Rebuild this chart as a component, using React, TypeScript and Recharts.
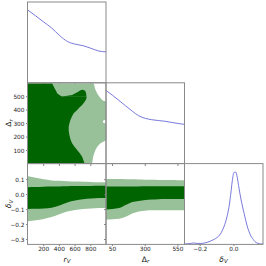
import React from 'react';
import { ComposedChart, Area, Line, XAxis, YAxis, ReferenceDot } from 'recharts';

// ---------- 1D marginals ----------
const rvGrid = [0, 100, 200, 300, 400, 500, 600, 700, 800, 900, 1000];
const rvDensity = [0.901, 0.829, 0.755, 0.682, 0.59, 0.515, 0.481, 0.462, 0.43, 0.396, 0.385];

const drGrid = [0, 50, 100, 150, 200, 250, 300, 350, 400, 450, 500, 550, 600];
const drDensity = [0.91, 0.85, 0.785, 0.72, 0.655, 0.597, 0.565, 0.548, 0.538, 0.529, 0.515, 0.502, 0.49];

const dvGrid = [-0.29, -0.26, -0.24, -0.22, -0.2, -0.18, -0.16, -0.14, -0.12, -0.1, -0.08, -0.06, -0.05, -0.04, -0.03,
  -0.02, -0.01, 0, 0.01, 0.02, 0.03, 0.04, 0.05, 0.06, 0.07, 0.08, 0.09, 0.1, 0.11, 0.12, 0.13, 0.14, 0.16, 0.175];
const dvDensity = [0, 0.005, 0.012, 0.008, 0.006, 0.01, 0.02, 0.035, 0.055, 0.08, 0.125, 0.21, 0.27, 0.35, 0.45,
  0.6, 0.78, 0.885, 0.89, 0.82, 0.69, 0.57, 0.47, 0.38, 0.29, 0.21, 0.15, 0.1, 0.07, 0.04, 0.02, 0.01, 0, 0];

// ---------- 2D r_V vs Delta_r contours (by Delta_r row) ----------
const contourDr = [600, 575, 552, 545, 538, 525, 513, 505, 501, 500, 488, 481, 470, 465, 455, 439, 420, 401, 377, 350,
  327, 300, 277, 250, 216, 185, 178, 165, 154, 130, 104, 80, 54, 25, 0];
const darkEdge = [307, 327, 348, 356, 362, 370, 400, 421, 432, 745, 745, 740, 730, 724, 712, 690, 655, 626, 582, 558,
  540, 527, 519, 518, 527, 540, 544, 553, 562, 590, 626, 660, 690, 708, 723];
const bulgeLo = [null, null, 688, 662, 646, 604, 562, 480, 440, 434, null, null, null, null, null, null, null, null, null, null,
  null, null, null, null, null, null, null, null, null, null, null, null, null, null, null];
const bulgeHi = [null, null, 692, 724, 732, 740, 742, 744, 745, 745, null, null, null, null, null, null, null, null, null, null,
  null, null, null, null, null, null, null, null, null, null, null, null, null, null, null];
const lightEdge = [838, 848, 858, 864, 870, 880, 894, 903, 908, 910, 925, 936, 960, 1000, 1000, 1000, 1000, 1000, 1000, 1000,
  1000, 1000, 1000, 1000, 1000, 1000, 1000, 960, 923, 885, 859, 843, 830, 822, 817];
const holeRv = 975;
const holeDr = 315;

// ---------- 2D bands vs delta_V ----------
const rvLightUp = [0.122, 0.112, 0.102, 0.095, 0.092, 0.089, 0.087, 0.086, 0.085, 0.083, 0.082];
const rvDarkUp = [0.05, 0.051, 0.053, 0.054, 0.055, 0.056, 0.057, 0.058, 0.058, 0.059, 0.06];
const rvDarkLow = [-0.096, -0.095, -0.093, -0.088, -0.072, -0.052, -0.04, -0.031, -0.026, -0.023, -0.022];
const rvLightLow = [-0.178, -0.172, -0.163, -0.15, -0.132, -0.113, -0.103, -0.096, -0.093, -0.09, -0.089];

const drLightUp = [0.105, 0.105, 0.104, 0.103, 0.102, 0.101, 0.1, 0.099, 0.098, 0.098, 0.097, 0.096, 0.096];
const drDarkUp = [0.054, 0.054, 0.055, 0.055, 0.055, 0.055, 0.056, 0.056, 0.056, 0.056, 0.056, 0.056, 0.056];
const drDarkLow = [-0.1, -0.096, -0.09, -0.07, -0.05, -0.042, -0.036, -0.033, -0.031, -0.03, -0.029, -0.029, -0.029];
const drLightLow = [-0.167, -0.165, -0.162, -0.148, -0.126, -0.112, -0.107, -0.105, -0.105, -0.105, -0.105, -0.105, -0.105];

// ---------- ticks ----------
const rvTicks = [200, 400, 600, 800];
const drTicks = [100, 200, 300, 400, 500];
const drXTicks = [50, 300, 550];
const dvTicks = [-0.3, -0.2, -0.1, 0, 0.1];
const dvXTicks = [-0.2, 0];

// ---------- layout ----------
const COLS = [27.5, 106, 184.5];
const ROWS = [2, 82.8, 163.6];
const PW = 78.5;
const PH = 80.8;
const YW = 28;
const XH = 12;
const MT = 2.2;
const MR = 1.5;
const CW = YW + PW + MR;
const CH = MT + PH + XH;

const DARK = '#006400';
const LIGHT = '#99c199';
const LINE = '#6a6ad8';
const FRAME = '#8a8a8a';
const FONT = 'DejaVu Sans, sans-serif';
const tickLine = { stroke: '#666', strokeWidth: 0.8 };

const fmtD = (v: number) => (v < -1e-9 ? '\u2212' : '') + Math.abs(v).toFixed(1);
const fmtN = (v: number) => String(v);
const blank = () => '';

const rvDiag = rvGrid.map((x, i) => ({ x, p: rvDensity[i] }));
const drDiag = drGrid.map((x, i) => ({ x, p: drDensity[i] }));
const dvDiag = dvGrid.map((x, i) => ({ x, p: dvDensity[i] }));
const contour = contourDr.map((dr, i) => ({
  dr,
  light: [0, lightEdge[i]],
  dark: [0, darkEdge[i]],
  bulge: bulgeLo[i] == null ? null : [bulgeLo[i], bulgeHi[i]],
}));
const rvBand = rvGrid.map((x, i) => ({
  x,
  light: [rvLightLow[i], rvLightUp[i]],
  dark: [rvDarkLow[i], rvDarkUp[i]],
}));
const drBand = drGrid.map((x, i) => ({
  x,
  light: [drLightLow[i], drLightUp[i]],
  dark: [drDarkLow[i], drDarkUp[i]],
}));

const margin = { top: MT, right: MR, left: 0, bottom: 0 };

function Cell({ r, c, children }: { r: number; c: number; children: React.ReactNode }) {
  return (
    <div style={{ position: 'absolute', left: COLS[c] - YW, top: ROWS[r] - MT, width: CW, height: CH }}>
      {children}
    </div>
  );
}

function TickText(props: any) {
  const { x, y, payload, fmt, anchor } = props;
  const s = fmt(payload.value);
  if (!s) return null;
  return (
    <text x={x} y={y} textAnchor={anchor} dominantBaseline={anchor === 'end' ? 'central' : 'hanging'}
      fontSize={5.8} fill="#222" fontFamily={FONT}>{s}</text>
  );
}

function xAxisProps(domain: number[], ticks: number[], labels: boolean, fmt?: (v: number) => string) {
  const f = labels ? (fmt || fmtN) : blank;
  return {
    type: 'number' as const,
    domain,
    ticks,
    allowDataOverflow: true,
    height: XH,
    tickSize: 2,
    tickMargin: 1.2,
    axisLine: false,
    tickLine,
    interval: 0 as const,
    minTickGap: 0,
    tick: <TickText fmt={f} anchor="middle" />,
  };
}

function yAxisProps(domain: number[], ticks: number[] | undefined, labels: boolean, fmt?: (v: number) => string) {
  const f = labels ? (fmt || fmtN) : blank;
  return {
    type: 'number' as const,
    domain,
    ticks,
    allowDataOverflow: true,
    width: YW,
    tickSize: ticks ? 2 : 0,
    tickMargin: 1.5,
    axisLine: false,
    tickLine: ticks ? tickLine : false,
    interval: 0 as const,
    minTickGap: 0,
    tick: ticks ? <TickText fmt={f} anchor="end" /> : false,
  };
}

function Label({ x, y, rotate, children }: { x: number; y: number; rotate?: boolean; children: React.ReactNode }) {
  return (
    <div
      style={{
        position: 'absolute',
        left: x,
        top: y,
        transform: `translate(-50%,-50%)${rotate ? ' rotate(-90deg)' : ''}`,
        fontFamily: FONT,
        fontSize: 7.5,
        lineHeight: 1,
        whiteSpace: 'nowrap',
        color: '#111',
      }}
    >
      {children}
    </div>
  );
}

const subStyle: React.CSSProperties = { fontSize: 5.5, position: 'relative', top: 1.6, fontStyle: 'italic' };

export default function App() {
  return (
    <div style={{ position: 'absolute', left: 0, top: 0, width: 266, height: 266, background: '#fff', overflow: 'hidden' }}>
      {/* r_V marginal */}
      <Cell r={0} c={0}>
        <ComposedChart width={CW} height={CH} data={rvDiag} margin={margin}>
          <XAxis dataKey="x" {...xAxisProps([0, 1000], rvTicks, false)} />
          <YAxis {...yAxisProps([0, 1], undefined, false)} />
          <Line type="monotone" dataKey="p" stroke={LINE} strokeWidth={0.9} dot={false} isAnimationActive={false} />
        </ComposedChart>
      </Cell>

      {/* r_V vs Delta_r */}
      <Cell r={1} c={0}>
        <ComposedChart width={CW} height={CH} data={contour} layout="vertical" margin={margin}>
          <XAxis {...xAxisProps([0, 1000], rvTicks, false)} />
          <YAxis dataKey="dr" reversed {...yAxisProps([0, 600], drTicks, true)} />
          <Area type="linear" dataKey={(d: any) => d.light} stroke="none" fill={LIGHT} fillOpacity={1} isAnimationActive={false} />
          <Area type="linear" dataKey={(d: any) => d.dark} stroke="none" fill={DARK} fillOpacity={1} isAnimationActive={false} />
          <Area type="linear" dataKey={(d: any) => d.bulge} stroke="none" fill={DARK} fillOpacity={1} isAnimationActive={false} />
          <ReferenceDot x={holeRv} y={holeDr} r={1.6} fill="#fff" stroke="none" />
        </ComposedChart>
      </Cell>

      {/* Delta_r marginal */}
      <Cell r={1} c={1}>
        <ComposedChart width={CW} height={CH} data={drDiag} margin={margin}>
          <XAxis dataKey="x" {...xAxisProps([0, 600], drXTicks, false)} />
          <YAxis {...yAxisProps([0, 1], undefined, false)} />
          <Line type="monotone" dataKey="p" stroke={LINE} strokeWidth={0.9} dot={false} isAnimationActive={false} />
        </ComposedChart>
      </Cell>

      {/* r_V vs delta_V */}
      <Cell r={2} c={0}>
        <ComposedChart width={CW} height={CH} data={rvBand} margin={margin}>
          <XAxis dataKey="x" {...xAxisProps([0, 1000], rvTicks, true)} />
          <YAxis {...yAxisProps([-0.33, 0.21], dvTicks, true, fmtD)} />
          <Area type="monotone" dataKey={(d: any) => d.light} stroke="none" fill={LIGHT} fillOpacity={1} isAnimationActive={false} />
          <Area type="monotone" dataKey={(d: any) => d.dark} stroke="none" fill={DARK} fillOpacity={1} isAnimationActive={false} />
        </ComposedChart>
      </Cell>

      {/* Delta_r vs delta_V */}
      <Cell r={2} c={1}>
        <ComposedChart width={CW} height={CH} data={drBand} margin={margin}>
          <XAxis dataKey="x" {...xAxisProps([0, 600], drXTicks, true)} />
          <YAxis {...yAxisProps([-0.33, 0.21], dvTicks, false)} />
          <Area type="monotone" dataKey={(d: any) => d.light} stroke="none" fill={LIGHT} fillOpacity={1} isAnimationActive={false} />
          <Area type="monotone" dataKey={(d: any) => d.dark} stroke="none" fill={DARK} fillOpacity={1} isAnimationActive={false} />
        </ComposedChart>
      </Cell>

      {/* delta_V marginal */}
      <Cell r={2} c={2}>
        <ComposedChart width={CW} height={CH} data={dvDiag} margin={margin}>
          <XAxis dataKey="x" {...xAxisProps([-0.29, 0.175], dvXTicks, true, fmtD)} />
          <YAxis {...yAxisProps([0, 1], undefined, false)} />
          <Line type="monotone" dataKey="p" stroke={LINE} strokeWidth={0.9} dot={false} isAnimationActive={false} />
        </ComposedChart>
      </Cell>

      {/* panel frames */}
      <svg width={266} height={266} style={{ position: 'absolute', left: 0, top: 0, pointerEvents: 'none' }}>
        {[[0, 0], [1, 0], [1, 1], [2, 0], [2, 1], [2, 2]].map(([r, c]) => (
          <rect key={`${r}-${c}`} x={COLS[c]} y={ROWS[r]} width={PW} height={PH} fill="none" stroke={FRAME} strokeWidth={1} />
        ))}
      </svg>

      <Label x={67} y={259.5}><i>r</i><span style={subStyle}>V</span></Label>
      <Label x={145.5} y={259.5}>Δ<span style={subStyle}>r</span></Label>
      <Label x={223.5} y={259.5}><i>δ</i><span style={subStyle}>V</span></Label>
      <Label x={9} y={123.2} rotate>Δ<span style={subStyle}>r</span></Label>
      <Label x={9} y={204} rotate><i>δ</i><span style={subStyle}>V</span></Label>
    </div>
  );
}
